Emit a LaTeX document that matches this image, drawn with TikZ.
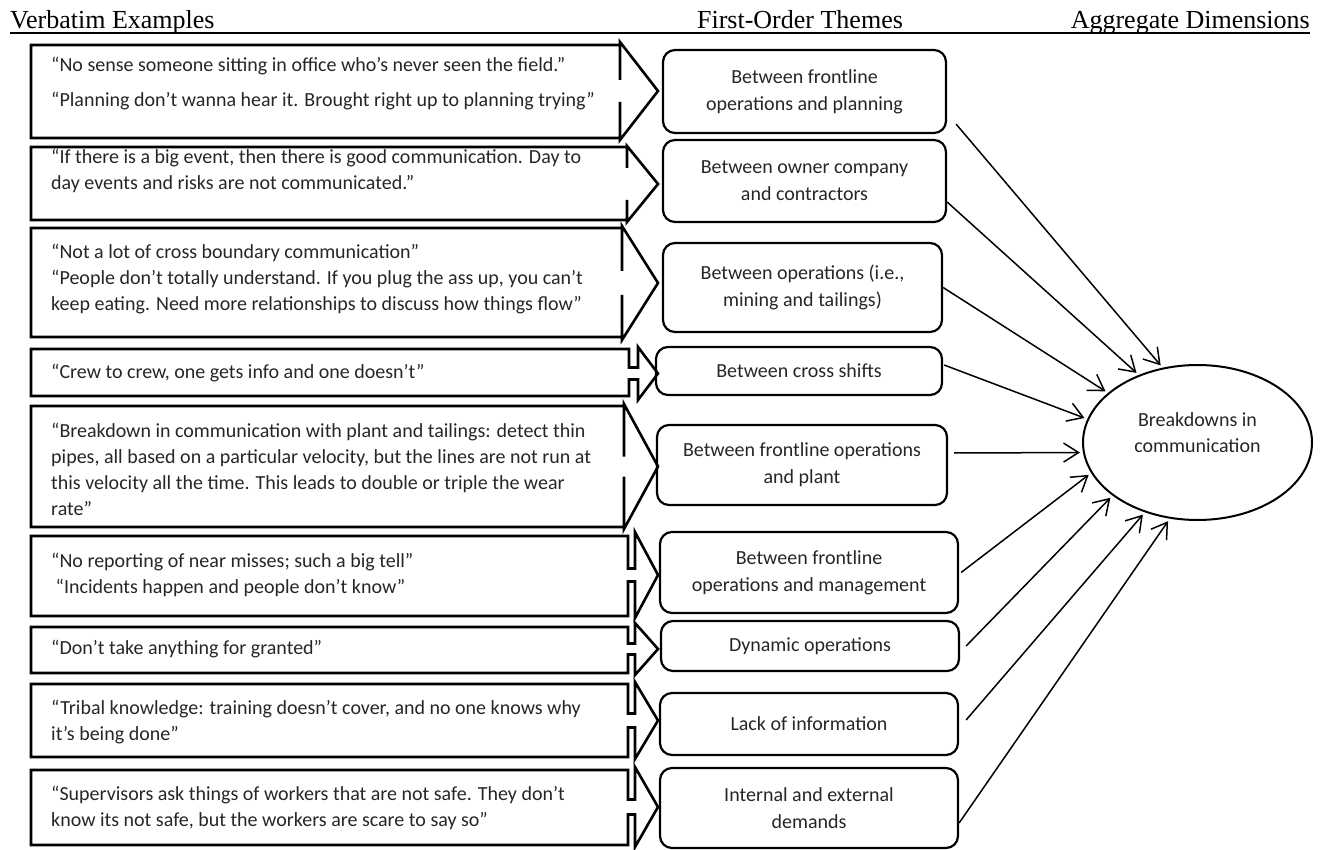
\documentclass[tikz,border=0pt]{standalone}
\usepackage{fontspec}
\setmainfont{Carlito}
\newfontfamily\headfont{Liberation Serif}
\usetikzlibrary{arrows.meta,shapes.geometric}
% callout box with arrow head: top, bottom, body right, head base, shaft half, head top, head bottom
\newcommand{\quotearrow}[7]{%
 \draw [qline] (31,#1) -- (#3,#1) -- (#3,{(#6+#7)/2-#5}) -- (#4,{(#6+#7)/2-#5}) -- (#4,#6) --
  (658,{(#6+#7)/2}) -- (#4,#7) -- (#4,{(#6+#7)/2+#5}) -- (#3,{(#6+#7)/2+#5}) -- (#3,#2) -- (31,#2) -- cycle;}
\begin{document}
\begin{tikzpicture}[x=1pt,y=-1pt,
  qline/.style={line width=2.6pt,line join=miter},
  quote/.style={anchor=west,align=left,inner sep=0pt,text=black!85,font={\fontsize{20}{26}\selectfont}},
  theme/.style={draw,line width=2.2pt,rounded corners=12pt,align=center,inner sep=0pt,text=black!85,font={\fontsize{20}{27}\selectfont}},
  head/.style={anchor=base,inner sep=0pt,font={\headfont\fontsize{26}{30}\selectfont}},
  conn/.style={line width=1.5pt,-{Straight Barb[length=15pt,width=19pt]},shorten >=3pt}]
 \useasboundingbox (0,0) rectangle (1320,850);
 % headings
 \node [head,anchor=base west] (h1) at (10,29) {Verbatim Examples};
 \node [head] (h2) at (800,29) {First-Order Themes};
 \node [head,anchor=base east] (h3) at (1310,29) {Aggregate Dimensions};
 \draw [line width=1.5pt] ([yshift=-4pt]h1.base west) -- ([yshift=-4pt]h3.base east);
 % verbatim boxes
 \quotearrow{45}{138}{620}{620}{11}{42}{140}
 \quotearrow{147}{220}{627}{627}{16}{146}{222}
 \quotearrow{228}{337}{622}{622}{12}{226}{340}
 \quotearrow{349}{396}{629}{638}{6}{347}{400}
 \quotearrow{406}{527}{624}{624}{10}{404}{529}
 \quotearrow{536}{616}{628}{635}{6.5}{532}{618}
 \quotearrow{627}{673}{628}{635}{5.5}{623}{675}
 \quotearrow{684}{757}{628}{635}{7}{682}{759}
 \quotearrow{770}{845}{628}{635}{7.5}{767}{847}
 \node [quote] (q1) at (51,83.5) {“No sense someone sitting in office who’s never seen the field.”\\[9pt]“Planning don’t wanna hear it. Brought right up to planning trying”};
 \node [quote] (q2) at (51,171) {“If there is a big event, then there is good communication. Day to\\day events and risks are not communicated.”};
 \node [quote] (q3) at (51,279) {“Not a lot of cross boundary communication”\\“People don’t totally understand. If you plug the ass up, you can’t\\keep eating. Need more relationships to discuss how things flow”};
 \node [quote] (q4) at (51,373) {“Crew to crew, one gets info and one doesn’t”};
 \node [quote] (q5) at (51,469) {“Breakdown in communication with plant and tailings: detect thin\\pipes, all based on a particular velocity, but the lines are not run at\\this velocity all the time. This leads to double or triple the wear\\rate”};
 \node [quote] (q6) at (51,574.5) {“No reporting of near misses; such a big tell”\\\hspace*{4.5pt}“Incidents happen and people don’t know”};
 \node [quote] (q7) at (51,649) {“Don’t take anything for granted”};
 \node [quote] (q8) at (51,722) {“Tribal knowledge: training doesn’t cover, and no one knows why\\it’s being done”};
 \node [quote] (q9) at (51,808) {“Supervisors ask things of workers that are not safe. They don’t\\know its not safe, but the workers are scare to say so”};
 % first-order themes
 \node [theme,minimum width=283pt,minimum height=83pt] (t1) at (804.5,91.5) {Between frontline\\operations and planning};
 \node [theme,minimum width=283pt,minimum height=82pt] (t2) at (804.5,181) {Between owner company\\and contractors};
 \node [theme,minimum width=279pt,minimum height=89pt] (t3) at (802.5,287.5) {Between operations (i.e.,\\mining and tailings)};
 \node [theme,minimum width=286pt,minimum height=48pt] (t4) at (799,371) {Between cross shifts};
 \node [theme,minimum width=290pt,minimum height=80pt] (t5) at (802,465) {Between frontline operations\\and plant};
 \node [theme,minimum width=298pt,minimum height=81pt] (t6) at (809,572.5) {Between frontline\\operations and management};
 \node [theme,minimum width=298pt,minimum height=50pt] (t7) at (810,646) {Dynamic operations};
 \node [theme,minimum width=298pt,minimum height=62pt] (t8) at (809,724) {Lack of information};
 \node [theme,minimum width=298pt,minimum height=80pt] (t9) at (809,808) {Internal and external\\demands};
 % aggregate dimension
 \node [ellipse,draw,line width=2pt,minimum width=229pt,minimum height=155pt,inner sep=0pt,align=center,
  text=black!85,font={\fontsize{20}{26}\selectfont}] (bd) at (1197.5,442.5) {Breakdowns in\\communication\\[-6pt]};
 \draw [conn] ([xshift=9pt,yshift=10pt]t1.south east) -- (bd.115);
 \draw [conn] ([yshift=-21pt]t2.east) -- (bd.131);
 \draw [conn] (t3.east) -- (bd.151);
 \draw [conn] ([xshift=1pt,yshift=6pt]t4.east) -- (bd.168);
 \draw [conn] ([xshift=6pt,yshift=12pt]t5.east) -- (bd.185);
 \draw [conn] ([xshift=2pt]t6.east) -- (bd.196);
 \draw [conn] ([xshift=6pt]t7.east) -- (bd.212);
 \draw [conn] ([xshift=7pt,yshift=4pt]t8.east) -- (bd.233);
 \draw [conn] ([yshift=-15pt]t9.east) -- (bd.250);
\end{tikzpicture}
\end{document}
